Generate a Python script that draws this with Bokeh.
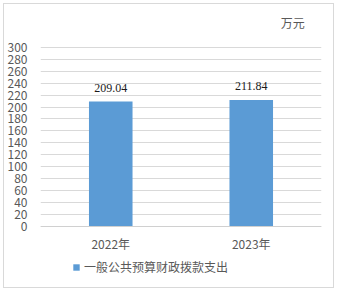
from bokeh.plotting import figure
from bokeh.models import FactorRange, Range1d, FixedTicker, Legend, LegendItem, ColumnDataSource, Label
from bokeh.embed import file_html
from bokeh.resources import INLINE

categories = ["2022年", "2023年"]
values = [209.04, 211.84]
value_labels = ["209.04", "211.84"]
y_ticks = list(range(0, 301, 20))
unit = "万元"
series_name = "一般公共预算财政拨款支出"

FONT = "Noto Sans CJK SC"
src = ColumnDataSource(dict(x=categories, top=values, lab=value_labels))

p = figure(width=331, height=285, x_range=FactorRange(*categories, range_padding=0),
           y_range=Range1d(-99, 365), output_backend="svg", toolbar_location=None,
           min_border_left=35, min_border_right=14, min_border_top=4, min_border_bottom=4,
           margin=(3, 3, 3, 3))
p.styles = {"border": "1px solid #D9D9D9"}
p.outline_line_color = None
p.background_fill_color = "white"
p.border_fill_color = "white"

r = p.vbar(x="x", top="top", width=0.31, source=src, fill_color="#5B9BD5", line_color=None)
p.text(x="x", y="top", text="lab", source=src, text_align="center", text_baseline="bottom",
       y_offset=-10, text_font_size="12px", text_color="#1a1a1a", text_font=FONT)

p.xgrid.grid_line_color = None
p.ygrid.grid_line_color = "#D9D9D9"
p.yaxis.ticker = FixedTicker(ticks=y_ticks)
p.yaxis.axis_line_color = None
p.yaxis.major_tick_line_color = None
p.yaxis.minor_tick_line_color = None
p.yaxis.major_label_text_font = FONT
p.yaxis.major_label_text_font_size = "12px"
p.yaxis.major_label_text_color = "#595959"
p.yaxis.major_label_standoff = 7

p.xaxis.fixed_location = 0
p.xaxis.axis_line_color = "#D0D0D0"
p.xaxis.major_tick_line_color = None
p.xaxis.minor_tick_line_color = None
p.xaxis.major_label_text_font = FONT
p.xaxis.major_label_text_font_size = "12px"
p.xaxis.major_label_text_color = "#595959"
p.xaxis.major_label_standoff = 3

p.add_layout(Label(x=1.71, y=342, text=unit, text_font=FONT, text_font_size="12px",
                   text_color="#595959", text_baseline="middle", text_align="left"))

legend = Legend(items=[LegendItem(label=series_name, renderers=[r])], location=(32, 10),
                orientation="horizontal", glyph_width=8, glyph_height=8, padding=0, margin=0,
                label_standoff=4, label_height=16,
                border_line_color=None, background_fill_alpha=0,
                label_text_font=FONT, label_text_font_size="12px", label_text_color="#595959")
p.add_layout(legend)

open("out.html", "w").write(file_html(p, INLINE))
